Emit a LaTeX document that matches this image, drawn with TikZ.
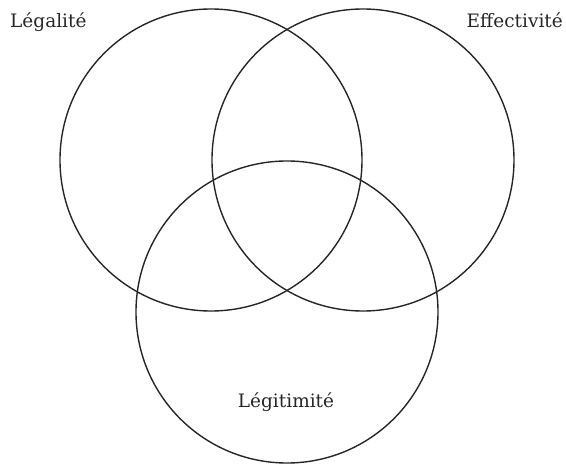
\documentclass[tikz,border=0pt]{standalone}
\usepackage{fontspec}
\setmainfont{DejaVu Serif}
\begin{document}
\begin{tikzpicture}[x=1pt,y=1pt,
  ring/.style={draw=black!85, line width=1.4pt},
  lab/.style={font=\fontsize{18.5}{20}\selectfont, text=black!85, inner sep=0pt}]
\useasboundingbox (0,0) rectangle (566,464);
\draw[ring] (211,304) circle (151);
\draw[ring] (363,304) circle (151);
\draw[ring] (287,152) circle (151);
\node[lab, anchor=base west] (a) at (10,436) {Légalité};
\node[lab, anchor=base east] (b) at (563,436) {Effectivité};
\node[lab, anchor=base] (c) at (286,56) {Légitimité};
\end{tikzpicture}
\end{document}
